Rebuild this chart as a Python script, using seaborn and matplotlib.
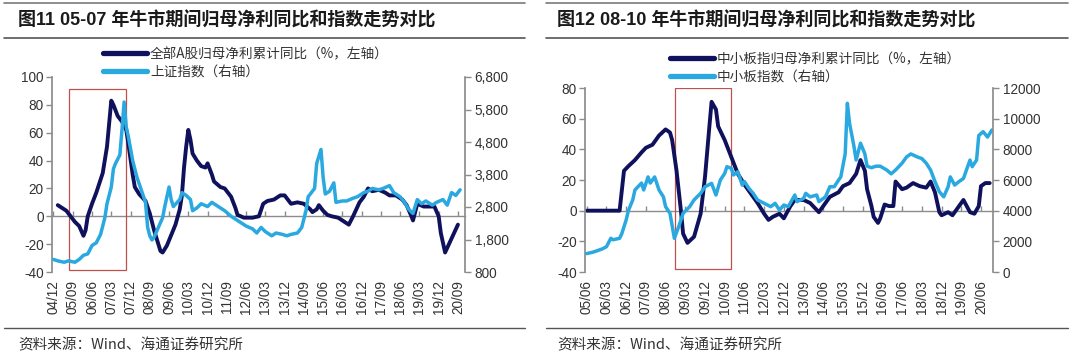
import numpy as np
import pandas as pd
import matplotlib
matplotlib.use("Agg")
import matplotlib.pyplot as plt
import matplotlib.ticker as mticker
from matplotlib.lines import Line2D
from matplotlib.patches import Rectangle
import seaborn as sns

sns.set_theme(style="white")
plt.rcParams['font.family'] = ['Liberation Sans', 'Noto Sans CJK SC', 'DejaVu Sans']
plt.rcParams['axes.unicode_minus'] = False

# ---------------- data: left chart (fig 11) ----------------
L_TITLE = "图11 05-07 年牛市期间归母净利同比和指数走势对比"
L_LABELS = ["全部A股归母净利累计同比（%，左轴）", "上证指数（右轴）"]
L_ORIGIN = "2004-12"
L_TICKLABELS = ["04/12", "05/09", "06/06", "07/03", "07/12", "08/09", "09/06", "10/03",
                "10/12", "11/09", "12/06", "13/03", "13/12", "14/09", "15/06", "16/03",
                "16/12", "17/09", "18/06", "19/03", "19/12", "20/09"]

L_profit_dates = ["2005-02", "2005-06", "2005-10", "2005-12", "2006-02", "2006-03", "2006-04", "2006-06", "2006-08", "2006-11",
                  "2007-01", "2007-03", "2007-04", "2007-06", "2007-08", "2007-10", "2007-11", "2008-01", "2008-02", "2008-04",
                  "2008-07", "2008-09", "2008-11", "2008-12", "2009-02", "2009-03", "2009-05", "2009-09", "2009-11", "2009-12",
                  "2010-01", "2010-02", "2010-03", "2010-04", "2010-05", "2010-07", "2010-09", "2010-11", "2010-12", "2011-02",
                  "2011-03", "2011-06", "2011-08", "2011-11", "2012-01", "2012-02", "2012-05", "2012-09", "2012-12", "2013-02",
                  "2013-04", "2013-07", "2013-10", "2013-12", "2014-03", "2014-06", "2014-09", "2014-12", "2015-01", "2015-03",
                  "2015-04", "2015-06", "2015-08", "2015-10", "2016-01", "2016-04", "2016-06", "2016-08", "2016-11", "2017-01",
                  "2017-03", "2017-05", "2017-08", "2017-11", "2018-01", "2018-04", "2018-07", "2018-09", "2018-11", "2018-12",
                  "2019-02", "2019-05", "2019-10", "2019-12", "2020-01", "2020-03", "2020-06", "2020-09"]
L_profit_values = [8, 4, -4, -7, -14, -10, 0, 9, 17, 31,
                   50, 83, 80, 72, 68, 62, 52, 30, 21, 16,
                   11, 2, -10, -15, -25, -26, -21, -6, 5, 15,
                   35, 50, 62, 55, 45, 40, 36, 35, 38, 30,
                   25, 21, 20, 14, 6, 1, -1, -1, 0, 9,
                   11, 12, 15, 15, 9, 10, 9, 5, 3, 5,
                   8, 4, 1, 0, -1, -4, -6, 0, 10, 14,
                   20, 18, 19, 17, 15, 15, 12, 8, 1, -3,
                   9, 7, 7, 0, -12, -26, -16, -6]

L_index_dates = ["2004-12", "2005-02", "2005-05", "2005-07", "2005-10", "2005-12", "2006-02", "2006-04", "2006-06", "2006-08",
                 "2006-10", "2006-12", "2007-01", "2007-03", "2007-04", "2007-05", "2007-07", "2007-08", "2007-09", "2007-10",
                 "2007-11", "2008-01", "2008-03", "2008-05", "2008-07", "2008-08", "2008-09", "2008-10", "2008-11", "2009-01",
                 "2009-03", "2009-04", "2009-06", "2009-07", "2009-08", "2009-11", "2009-12", "2010-02", "2010-04", "2010-05",
                 "2010-07", "2010-09", "2010-12", "2011-02", "2011-05", "2011-08", "2011-11", "2012-02", "2012-06", "2012-09",
                 "2012-11", "2013-01", "2013-03", "2013-06", "2013-08", "2013-11", "2014-01", "2014-03", "2014-06", "2014-08",
                 "2014-10", "2014-11", "2015-02", "2015-03", "2015-05", "2015-06", "2015-07", "2015-09", "2015-11", "2015-12",
                 "2016-03", "2016-05", "2016-08", "2016-10", "2017-01", "2017-03", "2017-05", "2017-08", "2017-10", "2018-01",
                 "2018-03", "2018-06", "2018-08", "2018-10", "2018-12", "2019-02", "2019-04", "2019-06", "2019-09", "2019-11",
                 "2020-02", "2020-04", "2020-06", "2020-08", "2020-10"]
L_index_values = [1186, 1143, 1100, 1143, 1100, 1186, 1314, 1357, 1614, 1700,
                  1957, 2471, 2900, 3414, 3971, 4143, 4400, 5171, 6029, 5257,
                  4957, 4229, 3714, 3329, 2943, 2171, 1914, 1786, 1871, 2171,
                  2471, 2814, 3414, 3029, 2814, 3029, 3243, 3157, 3029, 2686,
                  2771, 2900, 2814, 2943, 2814, 2686, 2514, 2386, 2214, 2129,
                  2000, 2171, 2043, 1914, 2000, 1957, 1914, 1957, 2000, 2171,
                  2686, 3114, 3371, 4143, 4571, 3714, 3200, 3286, 3543, 2943,
                  2986, 2986, 3071, 3114, 3243, 3286, 3371, 3329, 3371, 3457,
                  3243, 3114, 2943, 2729, 2600, 3029, 2900, 2986, 2857, 2943,
                  3029, 2857, 3243, 3157, 3329]

# ---------------- data: right chart (fig 12) ----------------
R_TITLE = "图12 08-10 年牛市期间归母净利同比和指数走势对比"
R_LABELS = ["中小板指归母净利累计同比（%，左轴）", "中小板指数（右轴）"]
R_ORIGIN = "2005-06"
R_TICKLABELS = ["05/06", "06/03", "06/12", "07/09", "08/06", "09/03", "09/12", "10/09",
                "11/06", "12/03", "12/12", "13/09", "14/06", "15/03", "15/12", "16/09",
                "17/06", "18/03", "18/12", "19/09", "20/06"]

R_profit_dates = ["2005-06", "2006-09", "2006-11", "2007-01", "2007-04", "2007-07", "2007-09", "2007-12", "2008-03", "2008-06",
                  "2008-08", "2008-09", "2008-11", "2009-01", "2009-02", "2009-04", "2009-07", "2009-10", "2009-12", "2010-02",
                  "2010-03", "2010-05", "2010-06", "2010-09", "2010-12", "2011-03", "2011-06", "2011-09", "2011-12", "2012-03",
                  "2012-05", "2012-07", "2012-10", "2012-12", "2013-03", "2013-05", "2013-09", "2013-12", "2014-04", "2014-06",
                  "2014-09", "2015-01", "2015-03", "2015-06", "2015-09", "2015-11", "2016-01", "2016-02", "2016-04", "2016-05",
                  "2016-07", "2016-08", "2016-10", "2016-12", "2017-02", "2017-03", "2017-06", "2017-08", "2017-11", "2018-02",
                  "2018-05", "2018-07", "2018-09", "2018-11", "2018-12", "2019-03", "2019-05", "2019-10", "2020-01", "2020-03",
                  "2020-05", "2020-06", "2020-08", "2020-10"]
R_profit_values = [0, 0, 26, 29, 33, 38, 41, 43, 49, 53,
                   51, 46, 26, 0, -15, -21, -17, -2, 22, 55,
                   71, 66, 55, 46, 35, 24, 17, 11, 5, -2,
                   -6, -4, -2, -5, 3, 7, 7, 5, -1, 3,
                   9, 12, 16, 18, 24, 33, 26, 14, 3, -4,
                   -8, -5, 4, 3, 3, 19, 14, 15, 18, 16,
                   15, 19, 12, -1, -3, -1, -3, 7, -1, -2,
                   3, 16, 18, 18]

R_index_dates = ["2005-06", "2005-09", "2006-01", "2006-03", "2006-05", "2006-06", "2006-09", "2006-10", "2006-12", "2007-01",
                 "2007-03", "2007-04", "2007-07", "2007-08", "2007-10", "2007-11", "2008-01", "2008-03", "2008-05", "2008-06",
                 "2008-08", "2008-10", "2008-12", "2009-02", "2009-05", "2009-07", "2009-10", "2009-12", "2010-03", "2010-05",
                 "2010-07", "2010-09", "2010-10", "2010-12", "2011-01", "2011-03", "2011-05", "2011-06", "2011-08", "2011-10",
                 "2011-12", "2012-03", "2012-06", "2012-08", "2012-10", "2012-12", "2013-02", "2013-05", "2013-06", "2013-09",
                 "2013-10", "2013-12", "2014-03", "2014-04", "2014-07", "2014-09", "2014-11", "2015-01", "2015-02", "2015-04",
                 "2015-05", "2015-06", "2015-08", "2015-09", "2015-11", "2016-01", "2016-02", "2016-04", "2016-06", "2016-08",
                 "2016-11", "2017-01", "2017-03", "2017-06", "2017-08", "2017-10", "2018-01", "2018-03", "2018-05", "2018-07",
                 "2018-09", "2018-11", "2019-01", "2019-03", "2019-04", "2019-06", "2019-08", "2019-10", "2020-01", "2020-02",
                 "2020-04", "2020-05", "2020-07", "2020-09", "2020-11"]
R_index_values = [1200, 1300, 1500, 1650, 2200, 2100, 2200, 2500, 3400, 4000,
                  4700, 5350, 5800, 5350, 6200, 5800, 6200, 5350, 4900, 4260,
                  3830, 2200, 2960, 3830, 4260, 4700, 5130, 5560, 5780, 5020,
                  6000, 6430, 6870, 6760, 6330, 6540, 5670, 5900, 5460, 5130,
                  4700, 4480, 4260, 4480, 4040, 4370, 4260, 5020, 4590, 4800,
                  5130, 4900, 5020, 4590, 4900, 5560, 5560, 6000, 6200, 7700,
                  11000, 9700, 8200, 7300, 8400, 7700, 6900, 6800, 6900, 6900,
                  6650, 6400, 6650, 7100, 7500, 7700, 7500, 7400, 7100, 6650,
                  5900, 5240, 4900, 5560, 6200, 5670, 5900, 6100, 7300, 6870,
                  7300, 8900, 9150, 8800, 9260]

# red highlight boxes (month offset from origin, left-axis value)
L_BOX = (7.4, 33.9, -38.4, 91.7)
R_BOX = (40.4, 66.0, -38.3, 79.8)

SOURCE = "资料来源：Wind、海通证券研究所"

DARK = "#10115c"
LIGHT = "#2aa8e0"
GRAY = "#8c8c8c"
TXT = "#333333"
BOXC = "#c0504d"
CJK = ['Noto Sans CJK SC', 'DejaVu Sans']

for a, b in [(L_profit_dates, L_profit_values), (L_index_dates, L_index_values),
             (R_profit_dates, R_profit_values), (R_index_dates, R_index_values)]:
    assert len(a) == len(b)


def month_index(dates, origin):
    oy, om = map(int, origin.split('-'))
    out = []
    for d in dates:
        y, m = map(int, d.split('-'))
        out.append((y - oy) * 12 + (m - om))
    return np.array(out, dtype=float)


W, H = 1080, 356
fig = plt.figure(figsize=(W / 100, H / 100), dpi=100)


def fx(px):
    return px / W


def fy(py):
    return 1 - py / H


def panel(rect, origin, p_dates, p_vals, i_dates, i_vals, ticklabels, xlim, ylim, yticks,
          y2lim, y2ticks, y2fmt, box):
    ax = fig.add_axes(rect)
    ax2 = ax.twinx()
    df_p = pd.DataFrame({"m": month_index(p_dates, origin), "v": p_vals})
    df_i = pd.DataFrame({"m": month_index(i_dates, origin), "v": i_vals})
    sns.lineplot(data=df_p, x="m", y="v", ax=ax, color=DARK, linewidth=2.8, legend=False,
                 solid_joinstyle='round', solid_capstyle='round')
    sns.lineplot(data=df_i, x="m", y="v", ax=ax2, color=LIGHT, linewidth=2.5, legend=False,
                 solid_joinstyle='round', solid_capstyle='round')
    x0, x1, b0, b1 = box
    ax.add_patch(Rectangle((x0, b0), x1 - x0, b1 - b0, fill=False, edgecolor=BOXC,
                           linewidth=0.9, zorder=1))
    ticks = [9 * i for i in range(len(ticklabels))]
    ax.set_xlim(*xlim)
    ax.set_ylim(*ylim)
    ax2.set_ylim(*y2lim)
    ax.set_xticks(ticks)
    ax.set_xticklabels(ticklabels, rotation=90)
    ax.set_yticks(yticks)
    ax2.set_yticks(y2ticks)
    ax2.yaxis.set_major_formatter(mticker.FuncFormatter(y2fmt))
    for a in (ax, ax2):
        a.set_xlabel("")
        a.set_ylabel("")
        a.grid(False)
        a.spines['top'].set_visible(False)
        a.spines['bottom'].set_visible(False)
        a.patch.set_alpha(0)
    ax.spines['right'].set_visible(False)
    ax2.spines['left'].set_visible(False)
    ax.spines['left'].set_color(GRAY)
    ax2.spines['right'].set_color(GRAY)
    ax.tick_params(axis='x', bottom=True, length=0, pad=6, labelsize=9.8, labelcolor=TXT)
    ax.tick_params(axis='y', left=True, length=4, width=1, color=GRAY, pad=2,
                   labelsize=9.8, labelcolor=TXT)
    ax2.tick_params(axis='y', right=True, left=False, length=4, width=1, color=GRAY, pad=3,
                    labelsize=9.8, labelcolor=TXT)
    zero_pos = (0 - ylim[0]) / (ylim[1] - ylim[0])
    sec = ax.secondary_xaxis(zero_pos)
    sec.set_xticks(ticks)
    sec.set_xticklabels([])
    sec.tick_params(axis='x', bottom=True, top=False, direction='in', length=3.5,
                    width=1, color=GRAY)
    for s in sec.spines.values():
        s.set_color(GRAY)
        s.set_linewidth(1)
    return ax, ax2


axL, axL2 = panel([fx(52), fy(272), fx(465 - 52), (272 - 77) / H], L_ORIGIN,
                  L_profit_dates, L_profit_values, L_index_dates, L_index_values,
                  L_TICKLABELS, (-0.7, 192.3), (-40, 100), list(range(-40, 101, 20)),
                  (800, 6800), list(range(800, 6801, 1000)),
                  lambda v, p: f"{v:,.0f}", L_BOX)

axR, axR2 = panel([fx(585), fy(272), fx(993 - 585), (272 - 88) / H], R_ORIGIN,
                  R_profit_dates, R_profit_values, R_index_dates, R_index_values,
                  R_TICKLABELS, (-0.8, 185.5), (-40, 80), list(range(-40, 81, 20)),
                  (0, 12000), list(range(0, 12001, 2000)),
                  lambda v, p: f"{v:.0f}", R_BOX)

# titles, rules, sources
for x_left, x_a, x_b, title in [(18, 4, 525, L_TITLE), (557, 546, 1068, R_TITLE)]:
    fig.text(fx(x_left), fy(20.5), title, ha='left', va='center', fontsize=13,
             fontweight='bold', color='#1a1a1a',
             family=['Liberation Sans', 'Noto Sans CJK SC', 'DejaVu Sans'])
    fig.add_artist(Line2D([fx(x_a), fx(x_b)], [fy(3), fy(3)], color='#7a7a7a', lw=1.2))
    fig.add_artist(Line2D([fx(x_a), fx(x_b)], [fy(38), fy(38)], color='#555555', lw=1.2))
    fig.add_artist(Line2D([fx(x_a), fx(x_b)], [fy(328), fy(328)], color='#555555', lw=1.0))
    fig.text(fx(x_left), fy(345), SOURCE, ha='left', va='center', fontsize=10.5,
             color=TXT, family=['Noto Sans CJK SC', 'DejaVu Sans'])

# legends
for anchor, labels in [((fx(103), fy(47)), L_LABELS), ((fx(670), fy(52)), R_LABELS)]:
    handles = [Line2D([], [], color=DARK, lw=3.8), Line2D([], [], color=LIGHT, lw=3.8)]
    fig.legend(handles, labels, loc='upper left', bbox_to_anchor=anchor, frameon=False,
               prop={'family': CJK, 'size': 9.8}, handlelength=3.2, handletextpad=0.25,
               labelspacing=0.3, borderpad=0, borderaxespad=0, labelcolor=TXT)

fig.savefig("out.png", dpi=100)
